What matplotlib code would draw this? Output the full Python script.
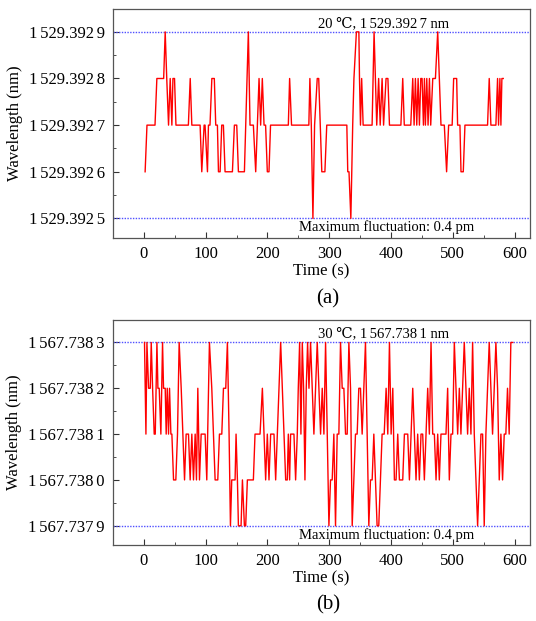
import numpy as np
import matplotlib
matplotlib.use("Agg")
import matplotlib.pyplot as plt
import matplotlib.transforms as mtransforms
from matplotlib.ticker import FuncFormatter, MultipleLocator

plt.rcParams["font.family"] = ["Liberation Serif", "DejaVu Serif"]

GAP = "\u2006"

# (a) 20 degC run: sample time (s) and deviation from the centre wavelength (pm)
center_a = 1529.3927
time_a = [
    2, 5, 18, 21, 32, 34.5, 37, 39.9, 42.6, 45.3,
    47, 49.6, 51.9, 72, 75, 77.6, 91, 93.7, 97.5, 99,
    102.9, 104.5, 107, 110, 114, 116.3, 119, 120.7, 123.4, 126,
    128.7, 131.4, 143.3, 146.5, 150.3, 153, 162.7, 164.8, 169.1, 171.8,
    177.2, 181, 183.7, 186.4, 189, 191.7, 194.5, 197, 199.8, 202.5,
    205, 233.8, 235.9, 239, 267, 268.7, 271, 273.6, 276.3, 280.6,
    283, 285.5, 288, 293, 296, 328.5, 330, 332, 335, 338,
    340, 344, 348, 349, 350.6, 352.5, 354.9, 369.4, 372.6, 374.8,
    376.9, 380, 382.5, 385.6, 388, 392, 395, 397.5, 416, 419,
    421.5, 432, 435.2, 437.4, 439.5, 441.7, 443.9, 446, 448.2, 450.3,
    452.5, 454.1, 455.7, 457.9, 460, 462.2, 464.3, 467.6, 471.9, 475.6,
    478.3, 480.9, 486.3, 490, 493.3, 499, 501.4, 506.3, 507.8, 511.6,
    513.3, 517, 519.7, 556.3, 559, 561.7, 569.8, 572.5, 574.1, 576.3,
    577.9, 579.5, 581.7,
]
dev_a = [
    -0.1, 0, 0, 0.1, 0.1, 0.2, 0.1, 0, 0.1, 0,
    0.1, 0.1, 0, 0, 0.1, 0, 0, -0.1, 0, 0,
    -0.1, 0, 0, 0.1, 0.1, 0, 0, -0.1, -0.1, 0,
    0, -0.1, -0.1, 0, 0, -0.1, -0.1, 0, 0.2, 0,
    0, -0.1, 0, 0.1, 0, 0.1, 0, 0, -0.1, -0.1,
    0, 0, 0.1, 0, 0, 0.1, 0, -0.2, 0, 0.1,
    0.1, 0, -0.1, -0.1, 0, 0, -0.1, -0.1, -0.2, 0,
    0.1, 0.2, 0.2, 0.1, 0, 0.1, 0, 0, 0.2, 0.1,
    0, 0.1, 0, 0.1, 0, 0.1, 0.1, 0, 0, 0.1,
    0, 0, 0.1, 0, 0.1, 0, 0.1, 0, 0.1, 0.1,
    0, 0.1, 0, 0.1, 0, 0.1, 0, 0.1, 0.1, 0.2,
    0.1, 0, 0, -0.1, 0, 0, 0.1, 0.1, 0, 0,
    -0.1, -0.1, 0, 0, 0.1, 0, 0, 0.1, 0, 0.1,
    0, 0.1, 0.1,
]

# (b) 30 degC run
center_b = 1567.7381
time_b = [
    1, 3.3, 4.9, 7.6, 10.3, 11.9, 14.1, 16.7, 18.4, 21.1,
    22.7, 24.8, 27.5, 30.2, 31.8, 34.5, 36.1, 37.8, 39.9, 41.5,
    43.7, 45.3, 48, 51.7, 54.4, 57.1, 60.4, 63.1, 65.8, 68.4,
    72.2, 74.9, 77.6, 80.3, 83, 85.1, 87.3, 90, 92.7, 99.1,
    101.8, 106.1, 109.9, 112.6, 115.3, 119.6, 122.3, 126.1, 128.8, 132.5,
    135.2, 137.9, 140.1, 142.2, 147.6, 149.2, 151.4, 153, 157.3, 159.5,
    162.7, 164.8, 167.5, 177.2, 179.9, 188, 191.8, 194.5, 197.1, 199.8,
    202.5, 205.2, 210.6, 213.3, 216, 218.7, 221.4, 224.1, 226.8, 229.5,
    232.1, 233.8, 235.9, 237.5, 242.9, 245.6, 248.3, 249.9, 252.1, 254.2,
    256.4, 258.5, 260.7, 262.8, 265, 267.2, 269.8, 272.5, 275.2, 277.9,
    280.6, 283.3, 286, 288.7, 291.4, 294.1, 296.8, 299.5, 302.1, 304.8,
    307.5, 310.2, 312.9, 315.6, 318.3, 321, 323.7, 326.4, 329.1, 331.8,
    334.5, 337.2, 339.9, 342.5, 345.2, 347.9, 350.6, 353.3, 356, 358.7,
    361.4, 364.1, 366.8, 369.5, 372.2, 374.8, 377.5, 380.2, 382.9, 385.6,
    389, 392.1, 394.8, 397.5, 400.2, 402.9, 405.5, 408.2, 410.9, 413.6,
    419, 421.7, 427.1, 429.8, 432.5, 435.2, 437.9, 440.5, 443.2, 445.9,
    448.6, 451.3, 454, 456.7, 459.4, 462.1, 464.8, 467.5, 470.2, 472.9,
    475.6, 478.2, 480.9, 489, 491.7, 494.4, 497.1, 499.8, 502.5, 505.2,
    507.9, 510.6, 513.2, 515.9, 518.6, 521.3, 524, 526.7, 529.4, 532.1,
    534.8, 537.5, 540.2, 542.9, 545.6, 548.3, 550.9, 553.6, 556.3, 559,
    561.7, 564.4, 567.1, 569.8, 572.5, 575.2, 577.9, 580.6, 583.3, 585.9,
    588.6, 591.3, 594, 597,
]
dev_b = [
    0.2, 0, 0.2, 0.1, 0.1, 0.2, 0.1, 0, 0, 0.2,
    0.1, 0.1, 0, 0.2, 0.1, 0.1, 0, 0.1, 0, 0.1,
    0, 0, -0.1, -0.1, 0, 0.2, 0.1, 0, -0.1, 0,
    0, -0.1, 0, -0.1, 0, -0.1, 0.1, -0.1, 0, 0,
    -0.1, 0.2, 0.1, 0, -0.1, -0.1, 0, 0, 0.1, 0.1,
    0.2, 0, -0.2, -0.1, -0.1, 0, -0.1, -0.2, -0.2, -0.1,
    -0.2, -0.2, -0.1, -0.1, 0, 0, 0.1, 0, -0.1, 0,
    -0.1, 0, 0, -0.1, 0, 0.1, 0.2, 0.1, 0, -0.1,
    -0.1, 0, -0.1, 0, 0, -0.1, 0, 0.1, 0.2, 0,
    0.2, 0.1, -0.1, 0.1, 0.2, 0.1, 0.2, 0.1, 0, 0.1,
    0.2, 0.1, 0, 0.1, 0, 0.2, 0, -0.2, -0.1, -0.1,
    0, -0.2, 0, 0, 0.2, 0.1, 0.1, 0, 0, 0.2,
    0.1, -0.2, -0.1, 0, 0, 0.1, 0.1, 0, 0.1, 0.2,
    0, -0.2, -0.1, -0.1, 0, -0.1, -0.2, -0.2, -0.1, 0,
    0, 0.1, 0, 0.2, 0, 0.1, -0.1, -0.1, 0, -0.1,
    -0.1, 0, 0, -0.1, 0, 0.1, 0, -0.1, 0, -0.1,
    0, 0, -0.1, 0, 0.1, 0, 0.2, 0, 0, -0.1,
    0, -0.1, 0, 0, 0.1, -0.1, 0, 0, 0.2, 0.1,
    0, 0.1, 0, 0.1, 0.2, 0.1, 0, 0.1, 0, 0.2,
    0, -0.1, -0.2, -0.1, 0, 0, -0.2, 0, 0.1, 0.2,
    0.1, 0, 0.1, 0.2, 0.1, -0.1, 0, -0.1, 0, 0,
    0.1, 0, 0.2, 0.2,
]


def wl_label(v, pos):
    s = f"{v:.4f}"
    return s[0] + GAP + s[1:8] + GAP + s[8]


def draw_panel(ax, t, dev, center, temp, tag):
    wl = center + np.asarray(dev) / 1000.0
    hi, lo = wl.max(), wl.min()

    ax.plot(t, wl, color="#ff0000", lw=1.0, zorder=3)
    for level in (hi, lo):
        ax.axhline(level, color="#5050ff", ls=(0, (1, 1)), lw=1.0, zorder=2)

    ax.set_xlim(-50, 625)
    ax.set_ylim(lo - 0.42e-4, hi + 0.49e-4)
    ax.xaxis.set_major_locator(MultipleLocator(100))
    ax.xaxis.set_minor_locator(MultipleLocator(50))
    ax.yaxis.set_major_locator(MultipleLocator(1e-4))
    ax.yaxis.set_minor_locator(MultipleLocator(0.5e-4))
    ax.yaxis.set_major_formatter(FuncFormatter(wl_label))
    ax.tick_params(which="both", direction="in", top=False, right=False,
                   labelsize=12, colors="#333333", labelcolor="black")
    ax.tick_params(which="major", length=4, pad=6)
    ax.tick_params(which="minor", length=2.5)
    for side in ax.spines.values():
        side.set_color("#555555")
        side.set_linewidth(0.9)

    ax.set_xlabel("Time (s)", fontsize=12, labelpad=1)
    ax.set_ylabel("Wavelength (nm)", fontsize=12, labelpad=4)

    trans = mtransforms.blended_transform_factory(ax.transAxes, ax.transData)
    ax.annotate(f"{temp} \u2103, {wl_label(center, None)} nm", xy=(0.65, hi),
                xycoords=trans, xytext=(0, 1.5), textcoords="offset points",
                ha="center", va="bottom", fontsize=10.5)
    ax.annotate("Maximum fluctuation: 0.4 pm", xy=(0.655, lo),
                xycoords=trans, xytext=(0, -1.5), textcoords="offset points",
                ha="center", va="top", fontsize=10.5)
    ax.text(0.515, -0.265, tag, transform=ax.transAxes, ha="center",
            va="center", fontsize=15)


fig = plt.figure(figsize=(5.36, 6.21), dpi=100)
ax_a = fig.add_axes([113 / 536, 1 - 238 / 621, 417 / 536, 229 / 621])
ax_b = fig.add_axes([113 / 536, 1 - 545 / 621, 417 / 536, 225 / 621])

draw_panel(ax_a, time_a, dev_a, center_a, 20, "(a)")
draw_panel(ax_b, time_b, dev_b, center_b, 30, "(b)")

fig.savefig("out.png", dpi=100)
